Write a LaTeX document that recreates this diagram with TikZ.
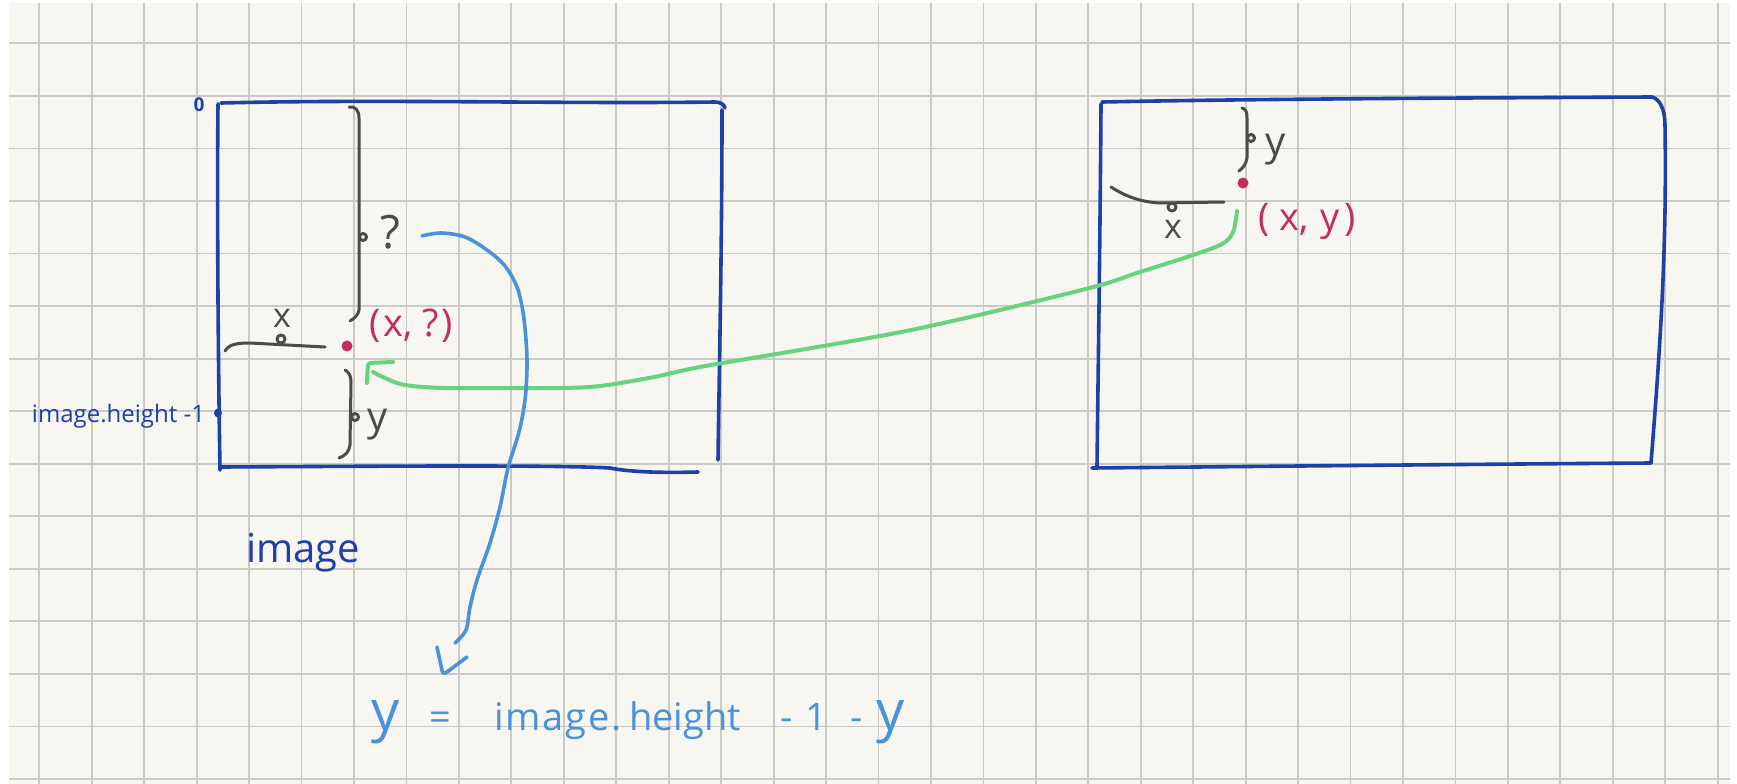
\documentclass[tikz,border=0pt]{standalone}
\usepackage{fontspec}
\setmainfont{Open Sans}
\definecolor{paper}{RGB}{247,246,241}
\definecolor{gridc}{RGB}{204,202,198}
\definecolor{rectblue}{RGB}{30,64,170}
\definecolor{pengray}{RGB}{74,76,76}
\definecolor{penred}{RGB}{196,46,92}
\definecolor{pengreen}{RGB}{104,211,126}
\definecolor{penblue}{RGB}{74,146,218}
\newcommand{\myfs}[1]{\fontsize{#1}{#1}\selectfont}
\begin{document}
\begin{tikzpicture}[x=1pt,y=-1pt,
  rect/.style={draw=rectblue,line width=3.6pt,line cap=round,line join=round},
  graypen/.style={draw=pengray,line width=3pt,line cap=round,line join=round},
  greenpen/.style={draw=pengreen,line width=4pt,line cap=round,line join=round},
  bluepen/.style={draw=penblue,line width=3.6pt,line cap=round,line join=round},
  gridline/.style={draw=gridc,line width=1.8pt},
  lbl/.style={inner sep=0pt,outer sep=0pt},
  formula/.style={lbl,text=penblue,font=\myfs{38},anchor=base west},
  reddot/.style={circle,fill=penred,inner sep=0pt,minimum size=11pt},
]
\useasboundingbox (0,0) rectangle (1737,784);
\fill[white] (0,0) rectangle (1737,784);
\fill[paper] (9,3) rectangle (1730,784);
\foreach \k in {0,...,32} { \draw[gridline] ({39.3+52.45*\k},3) -- ({39.3+52.45*\k},784); }
\foreach \k in {0,...,14} { \draw[gridline] (9,{43.3+52.55*\k}) -- (1730,{43.3+52.55*\k}); }

% ---------- left rectangle ----------
\draw[rect] (218,104) .. controls (217,200) and (218,350) .. (220,470);
\draw[rect] (221,103) .. controls (380,99) and (560,104) .. (715,102) .. controls (720,102) and (724,104) .. (725,108);
\draw[rect] (722,110) .. controls (722,250) and (719,380) .. (718,460);
\draw[rect] (221,467) .. controls (400,466) and (560,465) .. (610,468) .. controls (630,472) and (660,473) .. (698,472);
\fill[rectblue] (218,413) ellipse (4pt and 4.5pt);

% ---------- right rectangle ----------
\draw[rect] (1101,104) .. controls (1100,250) and (1098,380) .. (1097,466);
\draw[rect] (1102,102) .. controls (1250,99) and (1450,98) .. (1652,97) .. controls (1660,99) and (1665,110) .. (1665,125) .. controls (1667,250) and (1660,350) .. (1651,463);
\draw[rect] (1092,468) .. controls (1300,466) and (1500,464) .. (1651,463);

% ---------- labels ----------
\node[lbl,text=rectblue,font=\myfs{19}\bfseries] (zero) at (199,105) {0};
\node[lbl,text=rectblue,font=\myfs{24},anchor=base east] (hlbl) at (205,422) {image.height -1};
\node[lbl,text=rectblue,font=\myfs{40},anchor=base west] (imglbl) at (246,562) {image};

% ---------- left braces ----------
\draw[graypen] (349,107) .. controls (355,106) and (359,110) .. (359,118) -- (359,310) .. controls (358,315) and (355,318) .. (350,321);
\draw[graypen] (363,237) circle (3.5pt);
\node[lbl,text=pengray,font=\myfs{46}] (qm) at (390,232) {?};
\draw[graypen] (225,351) .. controls (229,344) and (238,343) .. (250,343) -- (325,347);
\draw[graypen] (281,339) circle (4pt);
\node[lbl,text=pengray,font=\myfs{34}] (xl) at (282,318) {x};
\draw[graypen] (345,370) .. controls (349,372) and (351,376) .. (351,382) -- (350,445) .. controls (349,452) and (345,456) .. (339,458);
\draw[graypen] (355,417) circle (3.5pt);
\node[lbl,text=pengray,font=\myfs{40},anchor=base west] (yl) at (367,430) {y};

% ---------- right braces ----------
\draw[graypen] (1242,108) .. controls (1246,109) and (1247,112) .. (1247,118) -- (1247,158) .. controls (1246,164) and (1243,168) .. (1239,171);
\draw[graypen] (1251,138) circle (3.5pt);
\node[lbl,text=pengray,font=\myfs{40},anchor=base west] (yr) at (1265,155) {y};
\draw[graypen] (1111,187) .. controls (1125,196) and (1140,202) .. (1160,203) -- (1224,202);
\draw[graypen] (1172,207) circle (4pt);
\node[lbl,text=pengray,font=\myfs{34}] (xr) at (1173,229) {x};

% ---------- points ----------
\node[reddot] (dotL) at (347,346) {};
\node[reddot] (dotR) at (1243,183) {};
\node[lbl,text=penred,font=\myfs{38},anchor=base west] (ptL) at (369,336) {(\hspace{3pt}x,\hspace{10pt}?\hspace{3pt})};
\node[lbl,text=penred,font=\myfs{38},anchor=base west] (ptR) at (1258,230) {(\hspace{10pt}x,\hspace{12pt}y\hspace{5pt})};

% ---------- green connector ----------
\coordinate (gR) at (1237,211);
\coordinate (gL) at (373,372);
\draw[greenpen] plot[smooth,tension=0.55] coordinates {(gR) (1233,232) (1222,244) (1190,256) (1140,272) (1097,286) (1000,310) (930,326) (880,336) (800,350) (700,367) (654,377) (600,386) (560,388) (500,388) (443,388) (405,385) (385,378) (gL)};
\draw[greenpen,rounded corners=3pt] (367,383) -- (368,363) -- (393,362);

% ---------- blue connector ----------
\coordinate (bS) at (422,236);
\coordinate (bE) at (455,643);
\draw[bluepen] plot[smooth,tension=0.55] coordinates {(bS) (441,233) (465,237) (487,250) (505,266) (517,287) (523,312) (526,340) (527,367) (525,400) (519,432) (508,468) (500,507) (490,543) (477,580) (470,607) (466,630) (bE)};
\draw[bluepen,rounded corners=4pt] (437,647) -- (443,675) -- (467,657);

% ---------- formula ----------
\node[formula,font=\myfs{56}] (fy1) at (371,730) {y};
\node[formula] (feq) at (429,730) {=};
\node[formula,font=\myfs{38}\addfontfeature{LetterSpace=5}] (fimg) at (494,730) {image.};
\node[formula] (fheight) at (629,730) {height};
\node[formula] (fm1) at (780,730) {-};
\node[formula] (fone) at (805,730) {1};
\node[formula] (fm2) at (850,730) {-};
\node[formula,font=\myfs{56}] (fy2) at (876,730) {y};
\end{tikzpicture}
\end{document}
